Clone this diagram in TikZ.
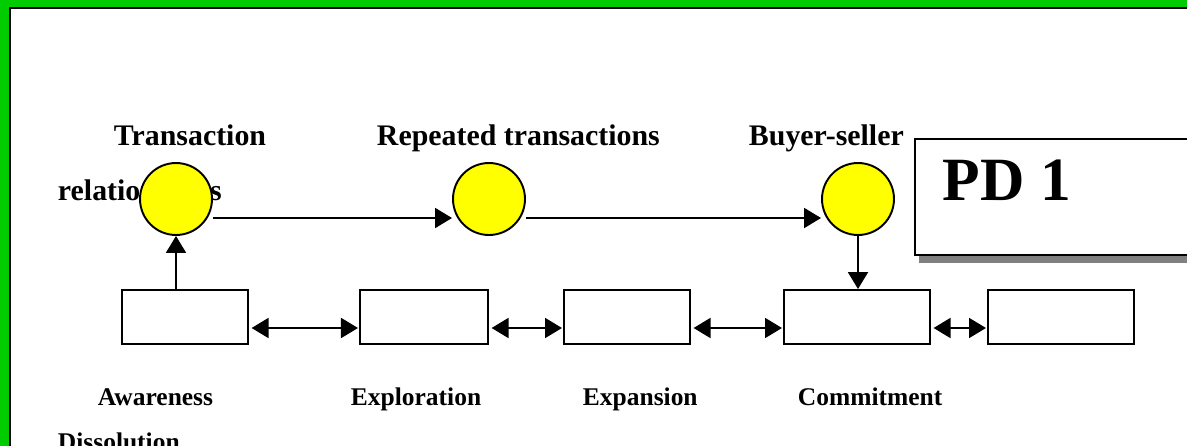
\documentclass[tikz,border=0pt]{standalone}
\usepackage{fontspec}
\setmainfont{Liberation Serif}
\usetikzlibrary{arrows.meta,shadows}
\definecolor{framegreen}{RGB}{0,204,0}
\definecolor{ballyellow}{RGB}{255,255,0}
\begin{document}
\begin{tikzpicture}[
			x=0.02cm, y=-0.02cm,
			line width=1.1pt,
			>={Triangle[length=3.4mm,width=4mm]},
			stage/.style={draw, rectangle, fill=white, minimum height=1.08cm, inner sep=0pt},
			ball/.style={draw, circle, fill=ballyellow, minimum size=1.44cm, inner sep=0pt},
			top label/.style={anchor=base west, inner sep=0pt, font=\bfseries\fontsize{17}{20}\selectfont},
			stage label/.style={anchor=base west, inner sep=0pt, font=\bfseries\fontsize{14.5}{17}\selectfont},
			link/.style={->},
			swap link/.style={<->, shorten <=1.5pt, shorten >=0.6pt}
			]
			\useasboundingbox (0,0) rectangle (1187,446);
			\clip (0,0) rectangle (1187,446);
			
			% frame
			\fill[framegreen] (0,0) rectangle (1187,446);
			\fill[white] (11,9) rectangle (1187,446);
			\draw (10,446) -- (10,8) -- (1187,8);
			
			% titles over the balls
			\node[top label] (t1) at (113,146) {Transaction};
			\node[top label] (t1b) at (57,200) {relationships};
			\node[top label] (t2) at (376,146) {Repeated transactions};
			\node[top label] (t3) at (748,146) {Buyer-seller};
			
			\node[ball] (c1) at (176,199) {};
			\node[ball] (c2) at (489,199) {};
			\node[ball] (c3) at (858,199) {};
			
			% stages
			\node[stage, minimum width=2.52cm] (b1) at (185,317) {};
			\node[stage, minimum width=2.56cm] (b2) at (424,317) {};
			\node[stage, minimum width=2.52cm] (b3) at (627,317) {};
			\node[stage, minimum width=2.92cm] (b4) at (857,317) {};
			\node[stage, minimum width=2.92cm] (b5) at (1061,317) {};
			
			\node[stage label] (l1) at (97,405) {Awareness};
			\node[stage label] (l2) at (350,405) {Exploration};
			\node[stage label] (l3) at (582,405) {Expansion};
			\node[stage label] (l4) at (797,405) {Commitment};
			\node[stage label] (l5) at (57,450) {Dissolution};
			
			% PD box
			\node[draw, rectangle, fill=white, anchor=north west, minimum width=7cm, minimum height=2.32cm,
				drop shadow={shadow xshift=0.08cm, shadow yshift=-0.16cm, fill=black!50, opacity=1}] (pd) at (914,138) {};
			\node[anchor=base west, inner sep=0pt, font=\bfseries\fontsize{35}{40}\selectfont] (pdt) at (942,200) {PD 1};
			
			% arrows
			\coordinate (top line) at (0,218);
			\coordinate (low line) at (0,328);
			\draw[link] (c1.east |- top line) -- (c2.west |- top line);
			\draw[link] (c2.east |- top line) -- (c3.west |- top line);
			\draw[link] (c1 |- b1.north) -- (c1.south);
			\draw[link] (c3.south) -- (c3 |- b4.north);
			
			\draw[swap link] (b1.east |- low line) -- (b2.west |- low line);
			\draw[swap link] (b2.east |- low line) -- (b3.west |- low line);
			\draw[swap link] (b3.east |- low line) -- (b4.west |- low line);
			\draw[swap link] (b4.east |- low line) -- (b5.west |- low line);
		\end{tikzpicture}
\end{document}
